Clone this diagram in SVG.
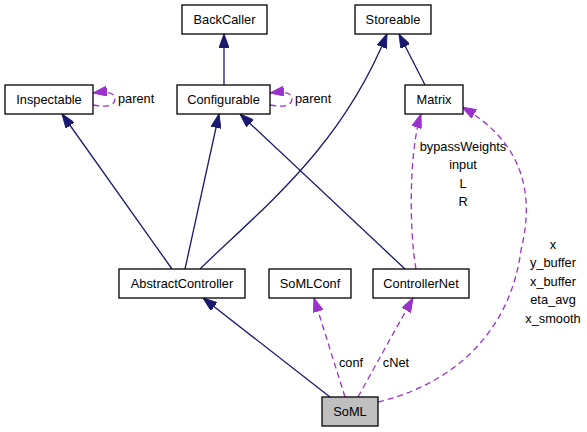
<svg xmlns="http://www.w3.org/2000/svg" width="587" height="432" viewBox="0 0 587 432">
<defs>
<marker id="an" markerUnits="userSpaceOnUse" markerWidth="14" markerHeight="10" refX="14" refY="5" orient="auto"><path d="M0,0 L14,5 L0,10 z" fill="#191970" stroke="#191970" stroke-width="1"/></marker>
<marker id="ap" markerUnits="userSpaceOnUse" markerWidth="14" markerHeight="10" refX="14" refY="5" orient="auto"><path d="M0,0 L14,5 L0,10 z" fill="#9a32cd" stroke="#9a32cd" stroke-width="1"/></marker>
<style>
text{font-family:"Liberation Sans",Arial,sans-serif;font-size:12.8px;fill:#000;text-anchor:middle}
.box{fill:#fff;stroke:#000;stroke-width:1.3}
.cur{fill:#bfbfbf;stroke:#000;stroke-width:1.3}
.inh{fill:none;stroke:#191970;stroke-width:1.3;marker-end:url(#an)}
.use{fill:none;stroke:#9a32cd;stroke-width:1.3;stroke-dasharray:6,4;marker-end:url(#ap)}
.lbl{text-anchor:start}
</style>
</defs>
<rect width="587" height="432" fill="#fff"/>
<g id="connectors">
<path class="inh" d="M224,85 L224,34"/>
<path class="inh" d="M425,85 L399,34"/>
<path class="inh" d="M200,269 C260,210 340,150 387,34"/>
<path class="inh" d="M172,269 L62,114"/>
<path class="inh" d="M185,269 L219,114"/>
<path class="inh" d="M405,269 L240,114"/>
<path class="inh" d="M330,397 L203,298"/>
<path class="use" d="M93,105 C108,108 115,105 115,99 C115,93 108,91 93,93"/>
<path class="use" d="M270,105 C285,108 292,105 292,99 C292,93 285,91 270,93"/>
<path class="use" d="M416,269 C409,230 409,150 421,114"/>
<path class="use" d="M378,402 C450,385 510,335 521,250 C536,190 520,140 462,107"/>
<path class="use" d="M345,397 L314,298"/>
<path class="use" d="M358,397 L413,298"/>
<text class="lbl" x="118" y="103">parent</text>
<text class="lbl" x="295" y="103">parent</text>
<text x="463" y="151">bypassWeights</text>
<text x="463" y="169.3">input</text>
<text x="463" y="187.6">L</text>
<text x="463" y="206">R</text>
<text x="553" y="248.5">x</text>
<text x="553" y="267">y_buffer</text>
<text x="553" y="285.7">x_buffer</text>
<text x="553" y="304.4">eta_avg</text>
<text x="553" y="323">x_smooth</text>
<text x="351" y="367">conf</text>
<text x="396" y="367">cNet</text>
</g>
<g id="BackCaller"><rect class="box" x="182" y="5" width="85" height="29"/><text x="224.5" y="24">BackCaller</text></g>
<g id="Storeable"><rect class="box" x="355" y="5" width="76" height="29"/><text x="393" y="24">Storeable</text></g>
<g id="Inspectable"><rect class="box" x="5" y="85" width="88" height="29"/><text x="49" y="104">Inspectable</text></g>
<g id="Configurable"><rect class="box" x="177" y="85" width="93" height="29"/><text x="223.5" y="104">Configurable</text></g>
<g id="Matrix"><rect class="box" x="405" y="85" width="58" height="29"/><text x="434" y="104">Matrix</text></g>
<g id="AbstractController"><rect class="box" x="119" y="269" width="126" height="29"/><text x="182" y="288">AbstractController</text></g>
<g id="SoMLConf"><rect class="box" x="269" y="269" width="82" height="29"/><text x="310" y="288">SoMLConf</text></g>
<g id="ControllerNet"><rect class="box" x="373" y="269" width="96" height="29"/><text x="421" y="288">ControllerNet</text></g>
<g id="SoML"><rect class="cur" x="322" y="397" width="56" height="29"/><text x="350" y="416">SoML</text></g>
</svg>
